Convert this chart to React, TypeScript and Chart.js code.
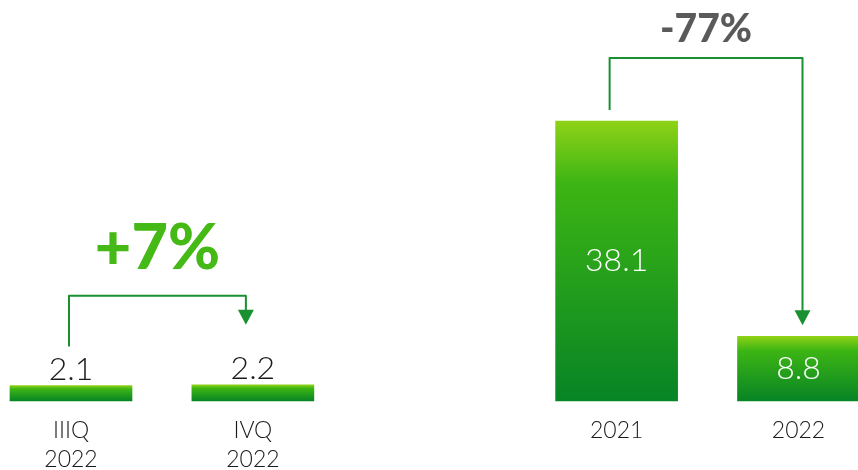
import React, { useEffect, useRef } from "react";
import { Chart, registerables } from "chart.js";

Chart.register(...registerables);

const categories: (string | string[])[] = [["IIIQ", "2022"], ["IVQ", "2022"], "", "2021", "2022"];
const values: (number | null)[] = [2.1, 2.2, null, 38.1, 8.8];
const changeLabels = ["+7%", "-77%"];
const changeFrom = [0, 3];
const changeTo = [1, 4];

const bracketStyles = [
  { rise: 89, startGap: 39, endGap: 60, dx1: -2, dx2: -7, textGap: 27, font: "900 63px Lato", color: "#45b915" },
  { rise: 63, startGap: 11, endGap: 11, dx1: -7, dx2: 4, textGap: 16, font: "900 39px Lato", color: "#5a5a5a" },
];

function makeGradient(ctx: CanvasRenderingContext2D, top: number, bottom: number) {
  const g = ctx.createLinearGradient(0, top, 0, bottom);
  g.addColorStop(0, "#8fd217");
  g.addColorStop(0.22, "#3db514");
  g.addColorStop(1, "#078425");
  return g;
}

const overlayPlugin = {
  id: "overlay",
  afterDatasetsDraw(chart: any) {
    const ctx: CanvasRenderingContext2D = chart.ctx;
    const meta = chart.getDatasetMeta(0);
    ctx.save();
    meta.data.forEach((bar: any, i: number) => {
      const v = values[i];
      if (v == null) return;
      const { x, y, base } = bar.getProps(["x", "y", "base"], true);
      const h = base - y;
      ctx.font = "300 32px Lato";
      ctx.textAlign = "center";
      if (h > 40) {
        ctx.fillStyle = "#ffffff";
        ctx.textBaseline = "middle";
        ctx.fillText(v.toFixed(1), x, (y + base) / 2);
      } else {
        ctx.fillStyle = "#1a1a1a";
        ctx.textBaseline = "alphabetic";
        ctx.fillText(v.toFixed(1), x, y - 6);
      }
    });
    changeLabels.forEach((label, k) => {
      const s = bracketStyles[k];
      const b1 = meta.data[changeFrom[k]].getProps(["x", "y"], true);
      const b2 = meta.data[changeTo[k]].getProps(["x", "y"], true);
      const x1 = b1.x + s.dx1;
      const x2 = b2.x + s.dx2;
      const topY = Math.min(b1.y, b2.y) - s.rise;
      const y1 = b1.y - s.startGap;
      const tip = b2.y - s.endGap;
      ctx.strokeStyle = "#1a9130";
      ctx.lineWidth = 2;
      ctx.lineJoin = "round";
      ctx.beginPath();
      ctx.moveTo(x1, y1);
      ctx.lineTo(x1, topY);
      ctx.lineTo(x2, topY);
      ctx.lineTo(x2, tip - 14);
      ctx.stroke();
      ctx.fillStyle = "#1a9130";
      ctx.beginPath();
      ctx.moveTo(x2 - 8, tip - 15);
      ctx.lineTo(x2 + 8, tip - 15);
      ctx.lineTo(x2, tip);
      ctx.closePath();
      ctx.fill();
      ctx.font = s.font;
      ctx.fillStyle = s.color;
      ctx.textAlign = "center";
      ctx.textBaseline = "alphabetic";
      ctx.fillText(label, (x1 + x2) / 2, topY - s.textGap);
    });
    ctx.restore();
  },
};

export default function App() {
  const ref = useRef<HTMLCanvasElement>(null);
  useEffect(() => {
    if (!ref.current) return;
    const chart = new Chart(ref.current, {
      type: "bar",
      data: {
        labels: categories,
        datasets: [
          {
            data: values as any,
            barThickness: 122,
            clip: false as any,
            borderWidth: 0,
            backgroundColor: (c: any) => {
              const ch = c.chart;
              const ys = ch.scales?.y;
              if (!ch.chartArea || !ys || c.raw == null) return "#3db514";
              return makeGradient(ch.ctx, ys.getPixelForValue(c.raw), ys.getPixelForValue(0));
            },
          },
        ],
      },
      options: {
        animation: false,
        responsive: false,
        devicePixelRatio: 1,
        layout: { padding: { left: 71, right: 59.5, top: 0, bottom: 0 } },
        plugins: { legend: { display: false }, tooltip: { enabled: false } },
        scales: {
          x: {
            offset: false,
            grid: { display: false, drawTicks: false },
            border: { display: false },
            ticks: {
              color: "#1a1a1a",
              font: { family: "Lato", size: 23, weight: "300" as any, lineHeight: 1.27 },
              padding: 15,
              maxRotation: 0,
              autoSkip: false,
            },
            afterFit: (scale: any) => {
              scale.height = 69;
            },
          },
          y: { display: false, min: 0, max: 54.57 },
        },
      },
      plugins: [overlayPlugin],
    });
    return () => chart.destroy();
  }, []);
  return (
    <div style={{ position: "fixed", left: 0, top: 0, width: 858, height: 470, background: "#fff" }}>
      <canvas ref={ref} width={858} height={470} style={{ width: 858, height: 470 }} />
    </div>
  );
}
